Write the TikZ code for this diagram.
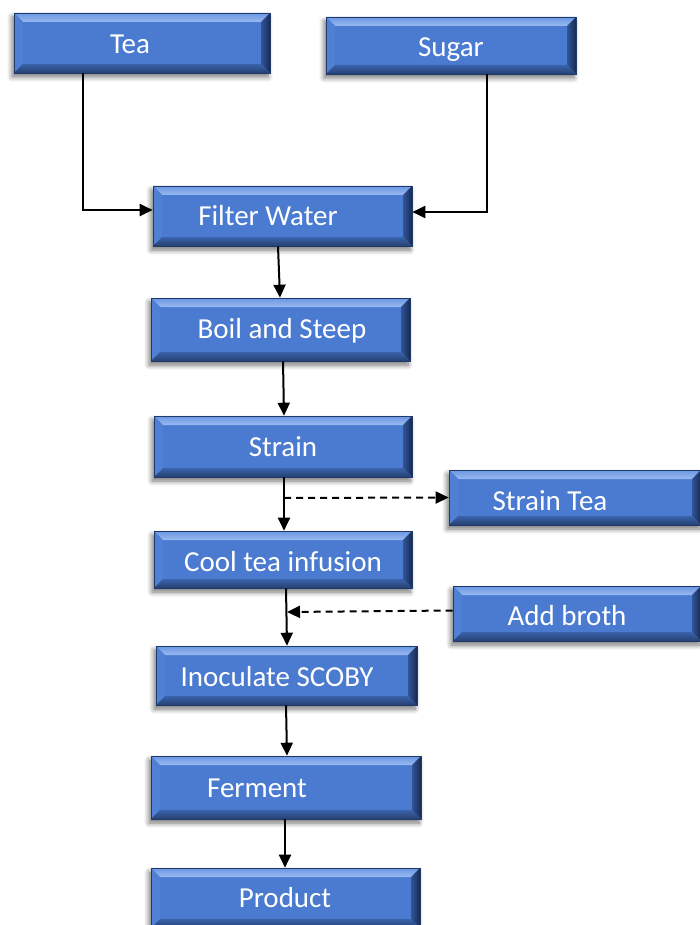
\documentclass[tikz,border=0pt]{standalone}
\usepackage{fontspec}
\setmainfont{Carlito}
\usetikzlibrary{arrows.meta,shadows.blur,calc}

\definecolor{faceblue}{HTML}{4A7BD1}
\definecolor{toplight}{HTML}{6F9CE8}
\definecolor{leftlight}{HTML}{4F80D4}
\definecolor{rightdark}{HTML}{2C4E90}
\definecolor{bottomdark}{HTML}{3A63AC}
\definecolor{edgedark}{HTML}{1F3A68}

\newcommand{\bevw}{9pt}

\tikzset{
  bevbox/.style={
    rectangle, inner sep=0pt, fill=faceblue,
    draw=edgedark, line width=0.6pt,
    blur shadow={shadow xshift=-2pt, shadow yshift=-4pt,
                 shadow blur radius=5pt, shadow blur steps=8, shadow opacity=55},
    path picture={
      \coordinate (bnw) at (path picture bounding box.north west);
      \coordinate (bne) at (path picture bounding box.north east);
      \coordinate (bsw) at (path picture bounding box.south west);
      \coordinate (bse) at (path picture bounding box.south east);
      \coordinate (inw) at ([xshift=\bevw,yshift=-\bevw]bnw);
      \coordinate (ine) at ([xshift=-\bevw,yshift=-\bevw]bne);
      \coordinate (isw) at ([xshift=\bevw,yshift=\bevw]bsw);
      \coordinate (ise) at ([xshift=-\bevw,yshift=\bevw]bse);
      \shade[top color=toplight!85!faceblue, bottom color=toplight!70!white]
        (bnw) -- (bne) -- (ine) -- (inw) -- cycle;
      \fill[leftlight] (bnw) -- (inw) -- (isw) -- (bsw) -- cycle;
      \shade[left color=rightdark!85!faceblue, right color=rightdark!55!black]
        (bne) -- (bse) -- (ise) -- (ine) -- cycle;
      \shade[top color=bottomdark, bottom color=bottomdark!65!black]
        (bsw) -- (isw) -- (ise) -- (bse) -- cycle;
    }
  },
  lbl/.style={inner sep=0pt, text height=19pt, text depth=0pt, text=white,
    font=\fontsize{29}{31}\selectfont},
  arr/.style={line width=2pt, -{Triangle[length=13pt,width=12pt]}},
  dasharr/.style={arr, dash pattern=on 7pt off 5pt}
}

\begin{document}
\begin{tikzpicture}[x=1pt,y=-1pt]
\useasboundingbox (0,0) rectangle (699,925);

% boxes
\node[bevbox, minimum width=256pt, minimum height=60pt] (tea)   at (142,43)    {};
\node[bevbox, minimum width=250pt, minimum height=57pt] (sugar) at (451,45.5)  {};
\node[bevbox, minimum width=259pt, minimum height=60pt] (fw)    at (282.5,216) {};
\node[bevbox, minimum width=259pt, minimum height=63pt] (bs)    at (280.5,329.5) {};
\node[bevbox, minimum width=258pt, minimum height=61pt] (st)    at (283,446.5) {};
\node[bevbox, minimum width=252pt, minimum height=55pt] (stt)   at (575,497.5) {};
\node[bevbox, minimum width=258pt, minimum height=57pt] (cool)  at (283,559.5) {};
\node[bevbox, minimum width=248pt, minimum height=55pt] (ab)    at (577,613.5) {};
\node[bevbox, minimum width=261pt, minimum height=59pt] (inoc)  at (286.5,675.5) {};
\node[bevbox, minimum width=270pt, minimum height=63pt] (fer)   at (286,787.5) {};
\node[bevbox, minimum width=269pt, minimum height=60pt] (prod)  at (285.5,898) {};

% labels
\node[lbl] (teaT)   at (130,44)  {Tea};
\node[lbl] (sugarT) at (451,47)  {Sugar};
\node[lbl] (fwT)    at (268,216) {Filter Water};
\node[lbl] (bsT)    at (282,329) {Boil and Steep};
\node[lbl] (stT)    at (283,447) {Strain};
\node[lbl] (sttT)   at (550,501) {Strain Tea};
\node[lbl] (coolT)  at (283,562) {Cool tea infusion};
\node[lbl] (abT)    at (567,616) {Add broth};
\node[lbl] (inocT)  at (277,677) {Inoculate SCOBY};
\node[lbl] (ferT)   at (257,788) {Ferment};
\node[lbl] (prodT)  at (285,898) {Product};

% connectors
\draw[arr] ([xshift=-59pt]tea.south) |- ([yshift=6pt]fw.west);
\draw[arr] ([xshift=36pt]sugar.south) |- ([yshift=4pt]fw.east);
\draw[arr] ([xshift=-4.5pt]fw.south) -- ([xshift=-0.5pt]bs.north);
\draw[arr] ([xshift=2.5pt]bs.south) -- ([xshift=1pt]st.north);
\draw[arr] ([xshift=1pt]st.south) -- ([xshift=1pt]cool.north);
\coordinate (split) at (284,498);
\draw[dasharr] (split) -- (stt.west);
\draw[arr] ([xshift=3pt]cool.south) -- ([xshift=0.5pt]inoc.north);
\coordinate (join) at (287,612);
\draw[dasharr] ([yshift=3pt]ab.west) -- (join);
\draw[arr] ([xshift=-0.5pt]inoc.south) -- ([xshift=1pt]fer.north);
\draw[arr] ([xshift=-1pt]fer.south) -- ([xshift=-0.5pt]prod.north);
\end{tikzpicture}
\end{document}
